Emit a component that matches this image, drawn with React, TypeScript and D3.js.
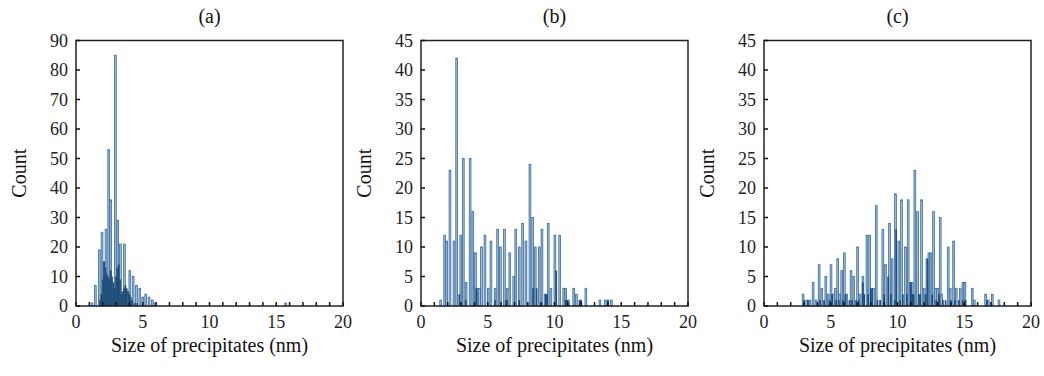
import React from "react";
import * as d3 from "d3";

// ---------- data ----------
const panelTitles = ["(a)", "(b)", "(c)"];
const xTicks = [0, 5, 10, 15, 20];
const yTicksA = [0, 10, 20, 30, 40, 50, 60, 70, 80, 90];
const yTicksBC = [0, 5, 10, 15, 20, 25, 30, 35, 40, 45];

// panel (a)
const aTallSize = [1.2, 1.45, 1.75, 1.95, 2.1, 2.25, 2.45, 2.6, 2.95, 3.13, 3.33, 3.63, 4.03, 4.28, 4.53, 4.78, 5.0, 5.22, 5.47, 5.72, 5.92, 15.7];
const aTallCount = [1, 7, 19, 25, 15, 26, 53, 36, 85, 29, 21, 21, 12, 10, 7, 6, 3, 4, 3, 2, 1, 1];
const aDarkSize = [1.8, 1.9, 2.0, 2.1, 2.2, 2.3, 2.4, 2.5, 2.6, 2.7, 2.8, 2.9, 3.0, 3.1, 3.2, 3.3, 3.4, 3.5, 3.6, 3.7, 3.8, 3.9, 4.0, 4.1, 4.2, 4.4, 4.6];
const aDarkCount = [2, 4, 9, 15, 13, 11, 10, 9, 12, 10, 8, 6, 10, 13, 14, 9, 4, 5, 6, 7, 6, 5, 4, 3, 2, 1, 1];

// panel (b)
const bTallSize = [1.47, 1.77, 1.92, 2.17, 2.47, 2.67, 2.98, 3.17, 3.38, 3.68, 3.88, 4.08, 4.18, 4.38, 4.53, 4.79, 5.04, 5.24, 5.55, 5.74, 5.95, 6.25, 6.45, 6.65, 6.95, 7.1, 7.36, 7.61, 7.86, 8.16, 8.36, 8.56, 8.86, 9.06, 9.3, 9.53, 9.73, 10.03, 10.39, 10.69, 10.84, 11.05, 11.44, 11.64, 11.9, 12.35, 13.4, 13.8, 14.0, 14.26];
const bTallCount = [1, 12, 11, 23, 11, 42, 12, 25, 4, 25, 16, 9, 3, 3, 10, 12, 3, 11, 3, 13, 10, 13, 3, 9, 5, 13, 10, 14, 11, 24, 15, 10, 10, 13, 2, 14, 3, 12, 12, 3, 3, 1, 3, 2, 1, 3, 1, 1, 1, 1];
const bDarkSize = [2.87, 3.35, 4.15, 5.55, 6.35, 6.45, 7.35, 8.4, 8.66, 9.35, 9.45, 10.13, 10.85, 10.95, 11.9, 12.0, 14.0];
const bDarkCount = [2, 1, 3, 1, 1, 1, 1, 3, 3, 2, 2, 6, 1, 1, 1, 1, 1];

// panel (c)
const cTallSize = [2.93, 3.2, 3.45, 3.68, 3.9, 4.13, 4.33, 4.63, 4.82, 5.02, 5.2, 5.35, 5.52, 5.67, 5.82, 6.02, 6.2, 6.52, 6.72, 7.01, 7.2, 7.41, 7.71, 7.91, 8.2, 8.41, 8.9, 9.1, 9.4, 9.6, 9.85, 10.1, 10.3, 10.6, 10.8, 10.95, 11.1, 11.3, 11.5, 11.8, 12.0, 12.2, 12.35, 12.5, 12.7, 12.85, 13.0, 13.2, 13.3, 13.8, 13.95, 14.2, 14.4, 14.7, 14.9, 15.05, 15.6, 15.75, 16.6, 16.8, 17.1, 17.6];
const cTallCount = [2, 1, 1, 4, 1, 7, 3, 5, 2, 7, 2, 3, 8, 2, 6, 9, 2, 6, 5, 10, 2, 5, 12, 12, 3, 17, 13, 7, 14, 8, 19, 11, 18, 10, 18, 4, 4, 23, 16, 18, 3, 8, 9, 9, 16, 3, 3, 15, 2, 10, 3, 11, 3, 3, 4, 4, 3, 1, 2, 1, 2, 1];
const cDarkSize = [3.0, 3.3, 4.2, 4.5, 4.9, 5.1, 5.4, 5.6, 5.9, 6.1, 6.4, 6.6, 6.9, 7.1, 7.4, 7.5, 7.8, 8.0, 8.1, 8.5, 8.7, 9.0, 9.3, 9.5, 9.8, 9.9, 10.2, 10.4, 10.7, 11.0, 11.1, 11.2, 11.6, 11.7, 12.1, 12.25, 12.6, 12.9, 13.1, 13.4, 13.6, 14.0, 14.3, 14.6, 14.9, 15.1, 16.7];
const cDarkCount = [1, 1, 1, 1, 1, 2, 1, 1, 1, 2, 1, 1, 1, 1, 4, 2, 2, 3, 3, 1, 1, 2, 5, 2, 1, 13, 1, 2, 2, 4, 2, 2, 2, 2, 2, 8, 2, 1, 2, 1, 1, 1, 1, 1, 1, 1, 1];

type PanelSpec = {
  title: string;
  left: number;
  yMax: number;
  yTicks: number[];
  tallSize: number[];
  tallCount: number[];
  darkSize: number[];
  darkCount: number[];
};

const panels: PanelSpec[] = [
  { title: panelTitles[0], left: 76, yMax: 90, yTicks: yTicksA, tallSize: aTallSize, tallCount: aTallCount, darkSize: aDarkSize, darkCount: aDarkCount },
  { title: panelTitles[1], left: 421, yMax: 45, yTicks: yTicksBC, tallSize: bTallSize, tallCount: bTallCount, darkSize: bDarkSize, darkCount: bDarkCount },
  { title: panelTitles[2], left: 764, yMax: 45, yTicks: yTicksBC, tallSize: cTallSize, tallCount: cTallCount, darkSize: cDarkSize, darkCount: cDarkCount },
];

const PW = 267;
const TOP = 40.5;
const BOTTOM = 306;
const FONT = "'Liberation Serif', 'Times New Roman', serif";

function Panel({ p }: { p: PanelSpec }) {
  const x = d3.scaleLinear().domain([0, 20]).range([p.left, p.left + PW]);
  const y = d3.scaleLinear().domain([0, p.yMax]).range([BOTTOM, TOP]);
  const bw = x(0.13) - x(0);
  const minor = d3.range(0, 21, 1);
  const cx = p.left + PW / 2;
  return (
    <g>
      <text x={cx} y={23} textAnchor="middle" fontFamily={FONT} fontSize={20} fill="#111">{p.title}</text>
      {p.tallSize.map((s, i) => (
        <rect key={"t" + i} x={x(s) - bw / 2} y={y(p.tallCount[i])} width={bw} height={BOTTOM - y(p.tallCount[i])}
          fill="#a3bddb" stroke="#3b6c9c" strokeWidth={0.8} />
      ))}
      {p.darkSize.map((s, i) => (
        <rect key={"d" + i} x={x(s) - bw / 2} y={y(p.darkCount[i])} width={bw} height={BOTTOM - y(p.darkCount[i])}
          fill="#1f4e79" />
      ))}
      <rect x={p.left} y={TOP} width={PW} height={BOTTOM - TOP} fill="none" stroke="#222" strokeWidth={1.5} />
      {minor.map((v) => (
        <line key={"mx" + v} x1={x(v)} x2={x(v)} y1={BOTTOM} y2={BOTTOM - 4} stroke="#111" strokeWidth={1.5} />
      ))}
      {p.yTicks.map((v) => (
        <line key={"my" + v} x1={p.left} x2={p.left + 4} y1={y(v)} y2={y(v)} stroke="#111" strokeWidth={1.5} />
      ))}
      {xTicks.map((v) => (
        <text key={"xl" + v} x={x(v)} y={BOTTOM + 22} textAnchor="middle" fontFamily={FONT} fontSize={18} fill="#222">{v}</text>
      ))}
      {p.yTicks.map((v) => (
        <text key={"yl" + v} x={p.left - 8} y={y(v) + 6} textAnchor="end" fontFamily={FONT} fontSize={18} fill="#222">{v}</text>
      ))}
      <text x={cx} y={352} textAnchor="middle" fontFamily={FONT} fontSize={20} fill="#111">Size of precipitates (nm)</text>
      <text transform={`translate(${p.left - 50},${(TOP + BOTTOM) / 2}) rotate(-90)`} textAnchor="middle"
        fontFamily={FONT} fontSize={20} fill="#111">Count</text>
    </g>
  );
}

export default function App() {
  return (
    <svg width={1044} height={376} style={{ position: "absolute", left: 0, top: 0, background: "#fff" }}>
      <rect width={1044} height={376} fill="#fff" />
      {panels.map((p, i) => <Panel key={i} p={p} />)}
    </svg>
  );
}
